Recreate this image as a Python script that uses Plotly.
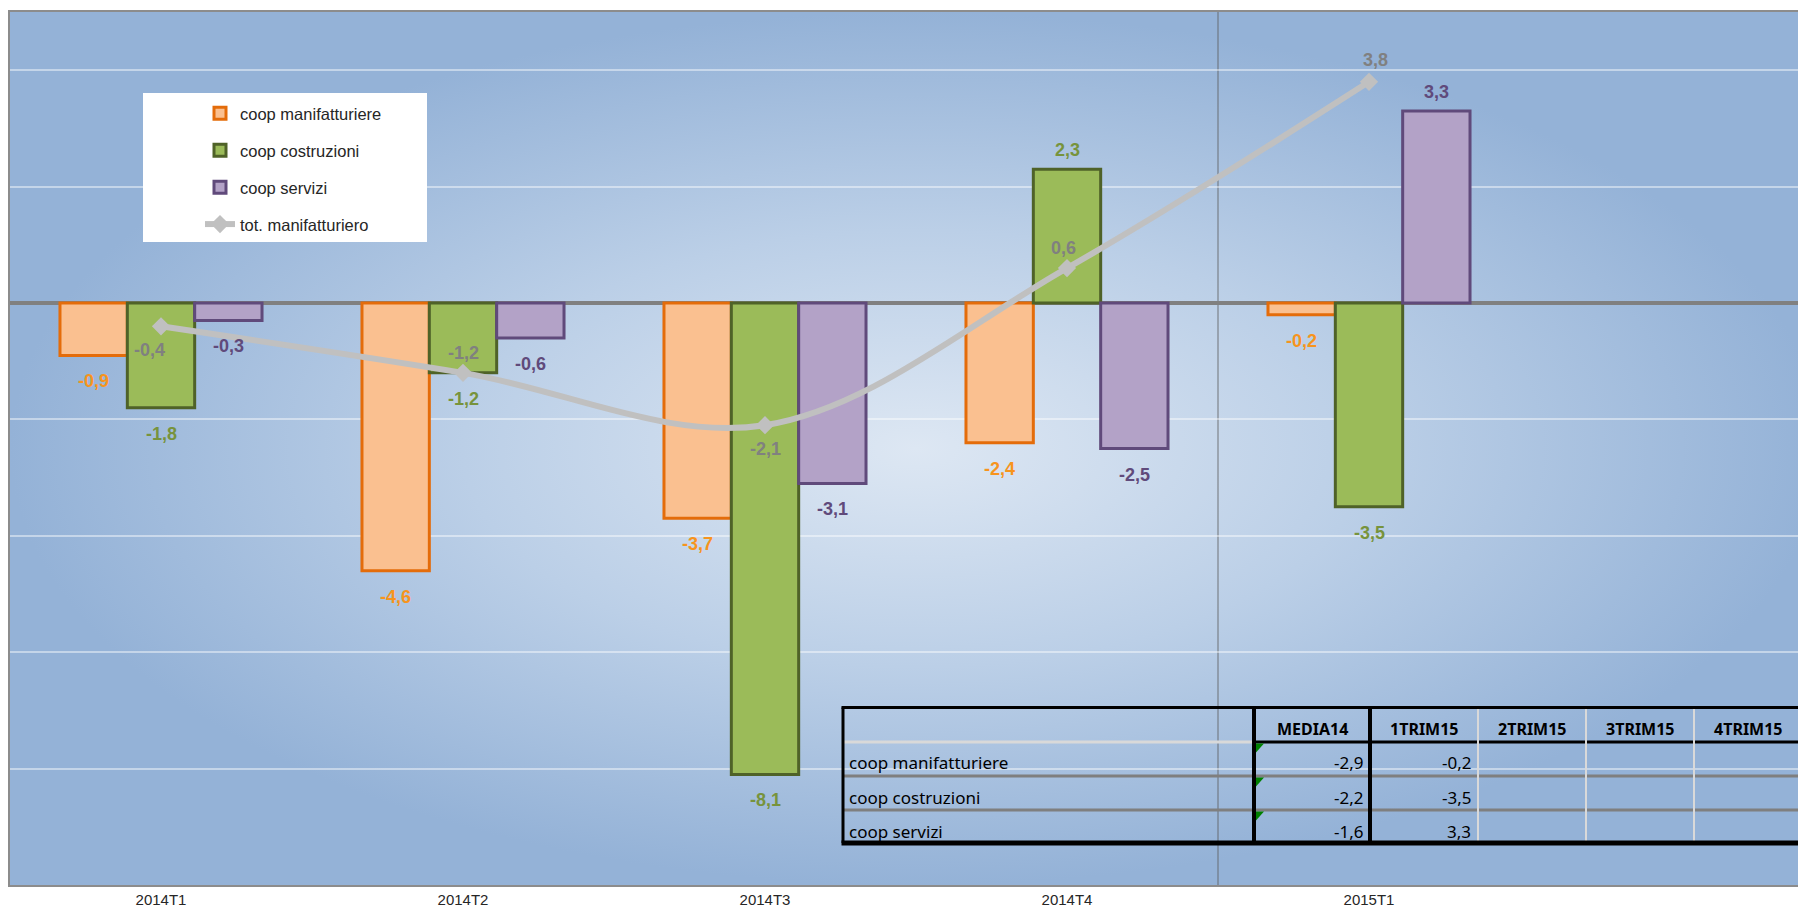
import base64
import plotly.graph_objects as go

# ---------------- data ----------------
categories = ["2014T1", "2014T2", "2014T3", "2014T4", "2015T1"]
coop_manifatturiere = [-0.9, -4.6, -3.7, -2.4, -0.2]
coop_costruzioni = [-1.8, -1.2, -8.1, 2.3, -3.5]
coop_servizi = [-0.3, -0.6, -3.1, -2.5, 3.3]
tot_manifatturiero = [-0.4, -1.2, -2.1, 0.6, 3.8]

table_columns = ["MEDIA14", "1TRIM15", "2TRIM15", "3TRIM15", "4TRIM15"]
table_rows = ["coop manifatturiere", "coop costruzioni", "coop servizi"]
table_media14 = [-2.9, -2.2, -1.6]
table_1trim15 = [-0.2, -3.5, 3.3]

# ---------------- styles ----------------
W, H = 1798, 910
ML, MR, MT, MB = 10, 0, 12, 25
PW, PH = W - ML - MR, H - MT - MB
BARGAP = 0.331
FONT = "Liberation Sans, Arial, sans-serif"
TFONT = "Noto Sans, Open Sans, sans-serif"


def fmt(v):
    return f"{v:.1f}".replace(".", ",")


def px(x):
    return (x - ML) / PW


def py(y):
    return (MT + PH - y) / PH


x_idx = list(range(len(categories)))

series = [
    ("coop manifatturiere", coop_manifatturiere, "#FAC090", "#E46C0A", "#F7941D"),
    ("coop costruzioni", coop_costruzioni, "#9BBB59", "#4F6228", "#77933C"),
    ("coop servizi", coop_servizi, "#B3A2C7", "#604A7B", "#604A7B"),
]

fig = go.Figure()
bar_w = (1 - BARGAP) / len(series)
annotations = []
for k, (name, vals, fill, border, lab) in enumerate(series):
    fig.add_trace(go.Bar(
        x=x_idx, y=vals, name=name, legendgroup=name,
        marker=dict(color=fill, line=dict(color=border, width=3)),
        hoverinfo="skip",
    ))
    off = (k - (len(series) - 1) / 2) * bar_w
    for xi, v in zip(x_idx, vals):
        annotations.append(dict(
            x=xi + off, y=v, xref="x", yref="y", text=fmt(v), showarrow=False,
            xanchor="center", yanchor="middle",
            yshift=-26 if v < 0 else 19,
            font=dict(family=FONT, size=18, color=lab, weight="bold"),
        ))

fig.add_trace(go.Scatter(
    x=x_idx, y=tot_manifatturiero, name="tot. manifatturiero",
    legendgroup="tot", mode="lines+markers",
    line=dict(color="#C0C0C0", width=6, shape="spline", smoothing=1),
    marker=dict(symbol="diamond", size=14, color="#C0C0C0"),
    hoverinfo="skip",
))
line_label_shift = [(-12, -24), (0, 20), (0, -24), (-4, 20), (6, 22)]
for xi, v, (dx, dy) in zip(x_idx, tot_manifatturiero, line_label_shift):
    annotations.append(dict(
        x=xi, y=v, xref="x", yref="y", text=fmt(v), showarrow=False,
        xanchor="center", yanchor="middle",
        xshift=dx, yshift=dy,
        font=dict(family=FONT, size=18, color="#808080", weight="bold"),
    ))

# ---------------- background gradient ----------------
svg = (
    '<svg xmlns="http://www.w3.org/2000/svg" width="1812" height="873" '
    'viewBox="0 0 1812 873" preserveAspectRatio="none">'
    '<defs><radialGradient id="g" cx="50%" cy="50%" r="50%">'
    '<stop offset="0" stop-color="#DDE7F3"/>'
    '<stop offset="0.5" stop-color="#BBCFE7"/>'
    '<stop offset="1" stop-color="#94B2D7"/>'
    '</radialGradient></defs>'
    '<rect x="0" y="0" width="1812" height="873" fill="url(#g)"/></svg>'
)
uri = "data:image/svg+xml;base64," + base64.b64encode(svg.encode()).decode()

shapes = []
# vertical separator
shapes.append(dict(type="line", xref="x", yref="paper", x0=3.5, x1=3.5, y0=0, y1=1,
                   line=dict(color="rgba(90,90,90,0.4)", width=2), layer="below"))
# legend box
shapes.append(dict(type="rect", xref="paper", yref="paper",
                   x0=px(143), x1=px(427), y0=py(242), y1=py(93),
                   fillcolor="white", line=dict(width=0), layer="above"))

# ---------------- overlay table ----------------
T_L, T_R, T_T, T_B = 843, 1805, 707.5, 843
T_HDR = 742
T_ROWSEP = [776, 810]
col_edges = [1254, 1370, 1478, 1586, 1694, 1802]


def hline(y, x0, x1, color, width):
    shapes.append(dict(type="line", xref="paper", yref="paper",
                       x0=px(x0), x1=px(x1), y0=py(y), y1=py(y),
                       line=dict(color=color, width=width), layer="above"))


def vline(x, y0, y1, color, width):
    shapes.append(dict(type="line", xref="paper", yref="paper",
                       x0=px(x), x1=px(x), y0=py(y0), y1=py(y1),
                       line=dict(color=color, width=width), layer="above"))


for y in T_ROWSEP:
    hline(y, T_L, T_R, "#7F7F7F", 3)
hline(T_HDR, T_L, col_edges[0], "#D9D9D9", 3)
hline(T_HDR, col_edges[0], T_R, "#000000", 3)
for x in col_edges[2:5]:
    vline(x, T_T, T_B, "#D9D9D9", 2)
hline(T_T, T_L - 1.5, T_R, "#000000", 3)
vline(T_L, T_T, T_B, "#000000", 3)
vline(col_edges[0], T_T, T_B, "#000000", 4)
vline(col_edges[1], T_T, T_B, "#000000", 4)
hline(T_B, T_L - 1.5, T_R, "#000000", 5)

row_y = [762, 797, 831]
for r, y in enumerate(row_y):
    ty = T_HDR + 1.5 + r * 34
    shapes.append(dict(
        type="path", xref="paper", yref="paper",
        path=f"M {px(1256)} {py(ty)} L {px(1264)} {py(ty)} L {px(1256)} {py(ty + 9)} Z",
        fillcolor="#008000", line=dict(width=0), layer="above"))

for c, name in enumerate(table_columns):
    annotations.append(dict(
        x=px((col_edges[c] + col_edges[c + 1]) / 2), y=py(729), xref="paper", yref="paper",
        xanchor="center", yanchor="middle",
        text=name, showarrow=False,
        font=dict(family=TFONT, size=16, color="#000000", weight="bold")))
for name, y in zip(table_rows, row_y):
    annotations.append(dict(
        x=px(847), y=py(y), xref="paper", yref="paper", xanchor="left", yanchor="middle",
        text=name, showarrow=False,
        font=dict(family=TFONT, size=17, color="#000000")))
for c, col in enumerate([table_media14, table_1trim15]):
    for v, y in zip(col, row_y):
        annotations.append(dict(
            x=px(col_edges[c + 1] - 5), y=py(y), xref="paper", yref="paper",
            xanchor="right", yanchor="middle", text=fmt(v), showarrow=False,
            font=dict(family=TFONT, size=17, color="#000000")))

fig.update_layout(
    width=W, height=H,
    margin=dict(l=ML, r=MR, t=MT, b=MB, autoexpand=False),
    paper_bgcolor="white", plot_bgcolor="rgba(0,0,0,0)",
    barmode="group", bargap=BARGAP, bargroupgap=0,
    font=dict(family=FONT, size=15, color="#262626"),
    showlegend=True,
    legend=dict(x=px(200), y=py(96), xanchor="left", yanchor="top",
                bgcolor="rgba(0,0,0,0)", font=dict(size=16.5, color="#262626"),
                tracegroupgap=12.5, traceorder="grouped"),
    images=[dict(source=uri, xref="paper", yref="paper", x=0, y=1,
                 sizex=1812 / PW, sizey=1, sizing="stretch", layer="below",
                 xanchor="left", yanchor="top")],
    shapes=shapes,
    annotations=annotations,
    xaxis=dict(range=[-0.5, -0.5 + PW / 302], tickvals=x_idx, ticktext=categories,
               showgrid=False, zeroline=False, showline=True, mirror=True,
               linecolor="#8C8C8C", linewidth=2, ticks="",
               tickfont=dict(family=FONT, size=15, color="#262626")),
    yaxis=dict(range=[-10, 5], dtick=2, tick0=0, showticklabels=False,
               showgrid=True, gridcolor="rgba(255,255,255,0.45)", gridwidth=2,
               zeroline=True, zerolinecolor="#808080", zerolinewidth=3.5,
               showline=True, linecolor="#8C8C8C", linewidth=2, mirror=False),
)

fig.write_html(
    "out.html",
    config=dict(displayModeBar=False),
    post_script="document.body.style.margin='0';document.body.style.overflow='hidden';",
)
